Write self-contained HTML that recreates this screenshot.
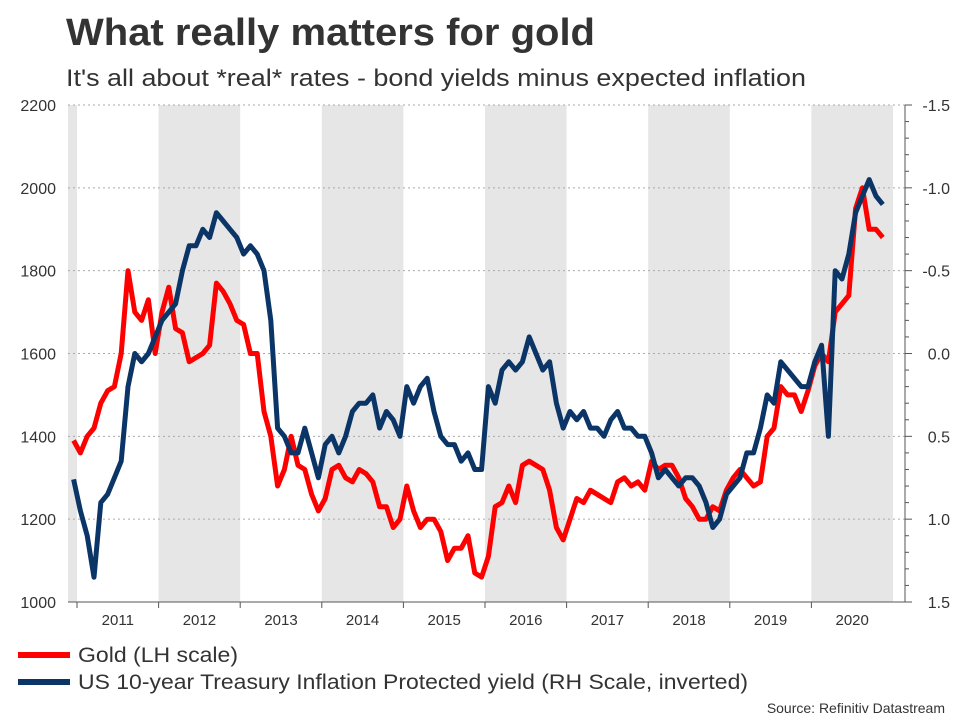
<!DOCTYPE html>
<html><head><meta charset="utf-8"><style>
body{margin:0;background:#fff;font-family:"Liberation Sans",sans-serif;}
#wrap{position:relative;width:960px;height:720px;overflow:hidden;}
</style></head><body>
<div id="wrap">
<svg id="chart" width="960" height="720" xmlns="http://www.w3.org/2000/svg">
<text x="66" y="45" font-size="38" font-weight="bold" fill="#333" textLength="529" lengthAdjust="spacingAndGlyphs">What really matters for gold</text>
<text x="66" y="86" font-size="24" fill="#333" textLength="740" lengthAdjust="spacingAndGlyphs">It's all about *real* rates - bond yields minus expected inflation</text>
<g id="bands"></g><g id="grid"></g><g id="axes"></g><g id="lines"></g>
<line x1="18" y1="655" x2="70" y2="655" stroke="#f00" stroke-width="6"/>
<text x="78" y="662" font-size="21" fill="#333" textLength="160" lengthAdjust="spacingAndGlyphs">Gold (LH scale)</text>
<line x1="18" y1="682" x2="70" y2="682" stroke="#0b3566" stroke-width="6"/>
<text x="78" y="689" font-size="21" fill="#333" textLength="670" lengthAdjust="spacingAndGlyphs">US 10-year Treasury Inflation Protected yield (RH Scale, inverted)</text>
<text x="945" y="713" font-size="14" fill="#333" text-anchor="end">Source: Refinitiv Datastream</text>
</svg></div>
<script>
const years=[2011,2012,2013,2014,2015,2016,2017,2018,2019,2020];
const leftTicks=[1000,1200,1400,1600,1800,2000,2200];
const rightTicks=[-1.5,-1.0,-0.5,0.0,0.5,1.0,1.5];
const rightTickLabels=["-1.5","-1.0","-0.5","0.0","0.5","1.0","1.5"];
const startYear=2010,startMonth=12;
const gold=[1390,1360,1400,1420,1480,1510,1520,1600,1800,1700,1680,1730,1600,
1700,1760,1660,1650,1580,1590,1600,1620,1770,1750,1720,1680,
1670,1600,1600,1460,1400,1280,1320,1400,1330,1320,1260,1220,
1250,1320,1330,1300,1290,1320,1310,1290,1230,1230,1180,1200,
1280,1220,1180,1200,1200,1170,1100,1130,1130,1160,1070,1060,
1110,1230,1240,1280,1240,1330,1340,1330,1320,1270,1180,1150,
1200,1250,1240,1270,1260,1250,1240,1290,1300,1280,1290,1270,
1340,1320,1330,1330,1300,1250,1230,1200,1200,1230,1220,1270,
1300,1320,1300,1280,1290,1400,1420,1520,1500,1500,1460,1510,
1570,1600,1580,1700,1720,1740,1950,2000,1900,1900,1880];
const tips=[0.76,0.95,1.1,1.35,0.9,0.85,0.75,0.65,0.2,0.0,0.05,0.0,-0.1,
-0.2,-0.25,-0.3,-0.5,-0.65,-0.65,-0.75,-0.7,-0.85,-0.8,-0.75,-0.7,
-0.6,-0.65,-0.6,-0.5,-0.2,0.45,0.5,0.6,0.6,0.45,0.6,0.75,
0.55,0.5,0.6,0.5,0.35,0.3,0.3,0.25,0.45,0.35,0.4,0.5,
0.2,0.3,0.2,0.15,0.35,0.5,0.55,0.55,0.65,0.6,0.7,0.7,
0.2,0.3,0.1,0.05,0.1,0.05,-0.1,0.0,0.1,0.05,0.3,0.45,
0.35,0.4,0.35,0.45,0.45,0.5,0.4,0.35,0.45,0.45,0.5,0.5,
0.6,0.75,0.7,0.75,0.8,0.75,0.75,0.8,0.9,1.05,1.0,0.85,
0.8,0.75,0.6,0.6,0.45,0.25,0.3,0.05,0.1,0.15,0.2,0.2,
0.05,-0.05,0.5,-0.5,-0.45,-0.6,-0.85,-0.95,-1.05,-0.95,-0.9];
const X0=68,X1=905,Y0=105,Y1=602;
const xOf=t=>77+(t-2011)*81.6;
const yL=v=>Y1-(v-1000)/1200*(Y1-Y0);
const yR=v=>Y0+(v+1.5)/3*(Y1-Y0);
const NS="http://www.w3.org/2000/svg";
function mk(tag,attrs,parent){const e=document.createElementNS(NS,tag);for(const k in attrs)e.setAttribute(k,attrs[k]);document.getElementById(parent).appendChild(e);return e;}
years.forEach((y,i)=>{
 if(y%2===0){const r=mk('rect',{x:xOf(y),y:Y0,width:81.6,height:Y1-Y0,fill:'#e6e6e6'},'bands');
 
 }
 const t=mk('text',{x:xOf(y+0.5),y:625,'font-size':15,fill:'#333','text-anchor':'middle'},'axes');t.textContent=y;
 
 
 const tk=mk('line',{x1:xOf(y),x2:xOf(y),y1:Y1,y2:Y1+6,stroke:'#555'},'axes');
 
 
});
const b0=mk('rect',{x:X0,y:Y0,width:xOf(2011)-X0,height:Y1-Y0,fill:'#e6e6e6'},'bands');


leftTicks.forEach(v=>{
 const g=mk('line',{x1:X0,x2:X1,y1:yL(v),y2:yL(v),stroke:'#aaa','stroke-dasharray':'2,3'},'grid');
 
 
 const t=mk('text',{x:56,y:yL(v)+6,'font-size':16,fill:'#333','text-anchor':'end'},'axes');t.textContent=v;
 
 
});
rightTicks.forEach((v,i)=>{
 const t=mk('text',{x:950,y:yR(v)+6,'font-size':16,fill:'#333','text-anchor':'end'},'axes');t.textContent=rightTickLabels[i];
 
 
});
for(let v=-1.5;v<=1.501;v+=0.1){const l=mk('line',{x1:X1,x2:X1+(Math.abs(v*2-Math.round(v*2))<0.01?7:4),y1:yR(v),y2:yR(v),stroke:'#555'},'axes');
 
 }
const ax=mk('line',{x1:X0,x2:X1,y1:Y1,y2:Y1,stroke:'#555'},'axes');


const ar=mk('line',{x1:X1,x2:X1,y1:Y0,y2:Y1,stroke:'#555'},'axes');


function tOf(i){const m=startMonth-1+i;return startYear+Math.floor(m/12)+((m%12)+0.5)/12;}
const gp=gold.map((v,i)=>xOf(tOf(i)).toFixed(1)+','+yL(v).toFixed(1)).join(' ');
const tp=tips.map((v,i)=>xOf(tOf(i)).toFixed(1)+','+yR(v).toFixed(1)).join(' ');
const lg=mk('polyline',{points:gp,fill:'none',stroke:'#f00','stroke-width':5,'stroke-linejoin':'round'},'lines');


const lt=mk('polyline',{points:tp,fill:'none',stroke:'#0b3566','stroke-width':5,'stroke-linejoin':'round'},'lines');


</script>
</body></html>
